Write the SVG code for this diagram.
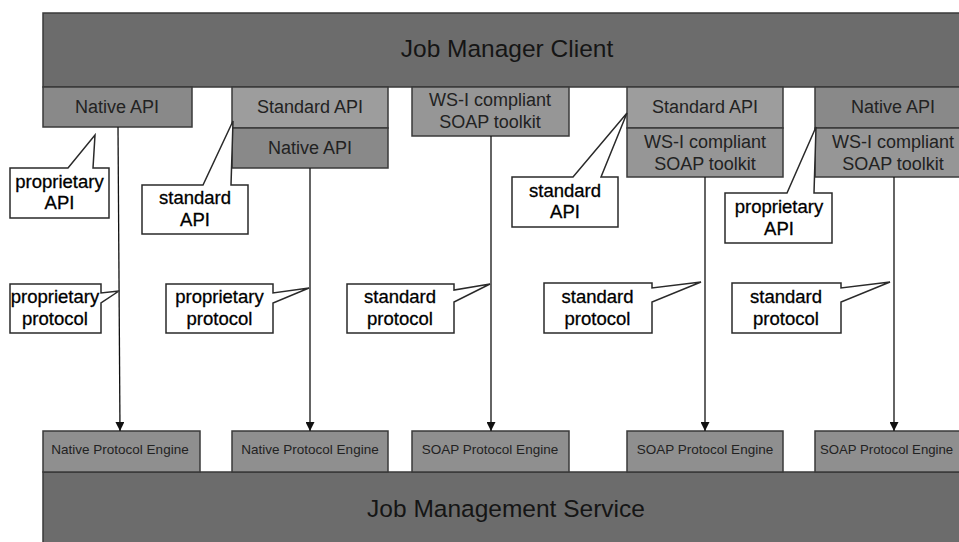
<svg xmlns="http://www.w3.org/2000/svg" width="959" height="542" viewBox="0 0 959 542">
  <style>
    .big{fill:#6c6c6c;stroke:#3a3a3a;stroke-width:1.5}
    .native{fill:#898989;stroke:#3a3a3a;stroke-width:1.5}
    .std{fill:#9d9d9d;stroke:#3a3a3a;stroke-width:1.5}
    .ws{fill:#969696;stroke:#3a3a3a;stroke-width:1.5}
    .eng{fill:#8f8f8f;stroke:#3a3a3a;stroke-width:1.5}
    .callout{fill:#fff;stroke:#2a2a2a;stroke-width:1.5;stroke-linejoin:miter}
    .title{font-family:"Liberation Sans",Arial,sans-serif;font-size:24.5px;fill:#151515;text-anchor:middle}
    .lbl{font-family:"Liberation Sans",Arial,sans-serif;font-size:18px;fill:#222;text-anchor:middle}
    .eng-t{font-family:"Liberation Sans",Arial,sans-serif;font-size:13.5px;fill:#222;text-anchor:middle}
    .ct{font-family:"Liberation Sans",Arial,sans-serif;font-size:18.5px;fill:#000;stroke:#000;stroke-width:0.3;text-anchor:middle}
    .conn{stroke:#111;stroke-width:1.3;fill:none}
  </style>
  <defs>
    <marker id="arr" markerUnits="userSpaceOnUse" markerWidth="9" markerHeight="9" refX="8" refY="4" orient="auto" viewBox="0 0 8 8">
      <path d="M0,0 L8,4 L0,8 Z" fill="#111"/>
    </marker>
  </defs>
  <rect width="959" height="542" fill="#fff"/>

  <g id="job-manager-client">
    <rect class="big" x="43" y="13" width="930" height="74"/>
    <text class="title" x="507" y="57">Job Manager Client</text>
  </g>

  <g id="job-management-service">
    <rect class="big" x="43" y="472" width="930" height="80"/>
    <text class="title" x="506" y="517">Job Management Service</text>
  </g>

  <g id="client-stack-1">
    <rect class="native" x="43" y="87" width="149" height="40"/>
    <text class="lbl" x="117" y="113">Native API</text>
  </g>
  <g id="client-stack-2">
    <rect class="std" x="232" y="87" width="156" height="41"/>
    <text class="lbl" x="310" y="113">Standard API</text>
    <rect class="native" x="232" y="128" width="156" height="40"/>
    <text class="lbl" x="310" y="154">Native API</text>
  </g>
  <g id="client-stack-3">
    <rect class="ws" x="412" y="87" width="157" height="49"/>
    <text class="lbl" x="490" y="106">WS-I compliant</text>
    <text class="lbl" x="490" y="128">SOAP toolkit</text>
  </g>
  <g id="client-stack-4">
    <rect class="std" x="627" y="87" width="156" height="41"/>
    <text class="lbl" x="705" y="113">Standard API</text>
    <rect class="ws" x="627" y="128" width="156" height="49"/>
    <text class="lbl" x="705" y="148">WS-I compliant</text>
    <text class="lbl" x="705" y="170">SOAP toolkit</text>
  </g>
  <g id="client-stack-5">
    <rect class="native" x="815" y="87" width="160" height="41"/>
    <text class="lbl" x="893" y="113">Native API</text>
    <rect class="ws" x="815" y="128" width="160" height="49"/>
    <text class="lbl" x="893" y="148">WS-I compliant</text>
    <text class="lbl" x="893" y="170">SOAP toolkit</text>
  </g>

  <g id="engine-1">
    <rect class="eng" x="43" y="431" width="157" height="41"/>
    <text class="eng-t" x="120" y="454">Native Protocol Engine</text>
  </g>
  <g id="engine-2">
    <rect class="eng" x="232" y="431" width="156" height="41"/>
    <text class="eng-t" x="310" y="454">Native Protocol Engine</text>
  </g>
  <g id="engine-3">
    <rect class="eng" x="412" y="431" width="157" height="41"/>
    <text class="eng-t" x="490" y="454">SOAP Protocol Engine</text>
  </g>
  <g id="engine-4">
    <rect class="eng" x="627" y="431" width="156" height="41"/>
    <text class="eng-t" x="705" y="454">SOAP Protocol Engine</text>
  </g>
  <g id="engine-5">
    <rect class="eng" x="815" y="431" width="160" height="41"/>
    <text class="eng-t" x="820" y="454" style="text-anchor:start;font-size:13.2px">SOAP Protocol Engine</text>
  </g>

  <g id="connectors">
    <line class="conn" x1="118" y1="127" x2="120" y2="431" marker-end="url(#arr)"/>
    <line class="conn" x1="310" y1="168" x2="310" y2="431" marker-end="url(#arr)"/>
    <line class="conn" x1="491" y1="136" x2="491" y2="431" marker-end="url(#arr)"/>
    <line class="conn" x1="705" y1="177" x2="705" y2="431" marker-end="url(#arr)"/>
    <line class="conn" x1="894" y1="177" x2="894" y2="431" marker-end="url(#arr)"/>
  </g>

  <g id="callout-api-1">
    <path class="callout" d="M10,168 H68 L95,135 L93,168 H109 V218 H10 Z"/>
    <text class="ct" x="59.5" y="188">proprietary</text>
    <text class="ct" x="59.5" y="209">API</text>
  </g>
  <g id="callout-api-2">
    <path class="callout" d="M142,185 H203 L233,121 L231,185 H248 V234 H142 Z"/>
    <text class="ct" x="195" y="204">standard</text>
    <text class="ct" x="195" y="226">API</text>
  </g>
  <g id="callout-api-3">
    <path class="callout" d="M512,177 H573 L627,113 L601,177 H618 V227 H512 Z"/>
    <text class="ct" x="565" y="197">standard</text>
    <text class="ct" x="565" y="218">API</text>
  </g>
  <g id="callout-api-5">
    <path class="callout" d="M725,193 H787 L816,127 L814,193 H832 V243 H725 Z"/>
    <text class="ct" x="779" y="213">proprietary</text>
    <text class="ct" x="779" y="235">API</text>
  </g>

  <g id="callout-protocol-1">
    <path class="callout" d="M10,284 H101 V293 L119,291 L101,303 V333 H10 Z"/>
    <text class="ct" x="55" y="303">proprietary</text>
    <text class="ct" x="55" y="325">protocol</text>
  </g>
  <g id="callout-protocol-2">
    <path class="callout" d="M166,284 H273 V293 L309,288 L273,303 V333 H166 Z"/>
    <text class="ct" x="219.5" y="303">proprietary</text>
    <text class="ct" x="219.5" y="325">protocol</text>
  </g>
  <g id="callout-protocol-3">
    <path class="callout" d="M347,284 H454 V290 L490,284 L454,302 V333 H347 Z"/>
    <text class="ct" x="400" y="303">standard</text>
    <text class="ct" x="400" y="325">protocol</text>
  </g>
  <g id="callout-protocol-4">
    <path class="callout" d="M544,283 H652 V288 L701,282 L652,302 V333 H544 Z"/>
    <text class="ct" x="597.5" y="303">standard</text>
    <text class="ct" x="597.5" y="325">protocol</text>
  </g>
  <g id="callout-protocol-5">
    <path class="callout" d="M732,283 H841 V288 L890,282 L841,302 V333 H732 Z"/>
    <text class="ct" x="786" y="303">standard</text>
    <text class="ct" x="786" y="325">protocol</text>
  </g>
</svg>
